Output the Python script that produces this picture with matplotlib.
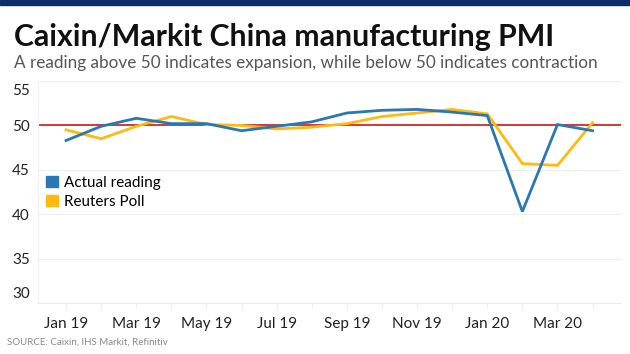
import numpy as np
import matplotlib.pyplot as plt
import matplotlib.transforms as mtransforms
from matplotlib.patches import Patch

plt.rcParams['font.family'] = ['Lato', 'DejaVu Sans']

# data
months = ['Jan 19', 'Feb 19', 'Mar 19', 'Apr 19', 'May 19', 'Jun 19', 'Jul 19', 'Aug 19',
          'Sep 19', 'Oct 19', 'Nov 19', 'Dec 19', 'Jan 20', 'Feb 20', 'Mar 20', 'Apr 20']
actual = [48.3, 49.9, 50.8, 50.2, 50.2, 49.4, 49.9, 50.4,
          51.4, 51.7, 51.8, 51.5, 51.1, 40.3, 50.1, 49.4]
poll = [49.5, 48.5, 49.9, 51.0, 50.1, 50.0, 49.6, 49.8,
        50.2, 51.0, 51.4, 51.8, 51.3, 45.7, 45.5, 50.3]
yticks = [30, 35, 40, 45, 50, 55]

blue = '#2a77b5'
yellow = '#ffb90f'
red = '#cf2a2a'

W, H = 630, 354
fig = plt.figure(figsize=(W / 100, H / 100), dpi=100)
ax = fig.add_axes([38 / W, 51 / H, (621 - 38) / W, 222 / H])

x = np.arange(len(months))
ax.axhline(50, color=red, lw=1.3, zorder=2)
ax.plot(x, poll, color=yellow, lw=2.0, zorder=3, solid_joinstyle='miter')
ax.plot(x, actual, color=blue, lw=2.0, zorder=4, solid_joinstyle='miter')

ax.set_xlim(-0.8, 15.81)
ax.set_ylim(30, 55)
ax.set_yticks(yticks)
ax.set_yticklabels([str(v) for v in yticks])
ax.set_xticks(x)
ax.set_xticklabels([m if i % 2 == 0 else '' for i, m in enumerate(months)])
ax.grid(axis='y', color='#eeeeee', lw=0.8, zorder=0)
for s in ['top', 'right']:
    ax.spines[s].set_visible(False)
ax.spines['left'].set_color('#f0f0f0')
ax.spines['bottom'].set_color('#eeeeee')
ax.tick_params(axis='y', length=0, pad=6, labelsize=11, labelcolor='#222222')
ax.tick_params(axis='x', length=4, color='#eeeeee', pad=6, labelsize=11,
               labelcolor='#222222')

# nudge top/bottom y labels inward like the original
yl = ax.get_yticklabels()
yl[-1].set_transform(yl[-1].get_transform() +
                     mtransforms.ScaledTranslation(0, -9 / 100, fig.dpi_scale_trans))
yl[0].set_transform(yl[0].get_transform() +
                    mtransforms.ScaledTranslation(0, 10 / 100, fig.dpi_scale_trans))

handles = [Patch(color=blue), Patch(color=yellow)]
ax.legend(handles, ['Actual reading', 'Reuters Poll'], loc='upper left',
          bbox_to_anchor=(5 / (621 - 38), (303 - 173) / 222), frameon=False,
          fontsize=11, handlelength=0.75, handleheight=0.75, handletextpad=0.45,
          labelspacing=0.3, borderaxespad=0, borderpad=0.2)

# header bar, title and notes
fig.patches.append(plt.Rectangle((0, 1 - 5 / H), 1, 5 / H, transform=fig.transFigure,
                                 color='#0b2f6b', zorder=5))
fig.text(14 / W, 1 - 37 / H, 'Caixin/Markit China manufacturing PMI', fontsize=21.8,
         fontweight='bold', color='#111111', va='center')
fig.text(14 / W, 1 - 63 / H,
         'A reading above 50 indicates expansion, while below 50 indicates contraction',
         fontsize=12.3, color='#555555', va='center')
fig.text(7 / W, 1 - 342 / H, 'SOURCE: Caixin, IHS Markit, Refinitiv', fontsize=7,
         color='#888888', va='center')

fig.savefig('out.png', dpi=100)
